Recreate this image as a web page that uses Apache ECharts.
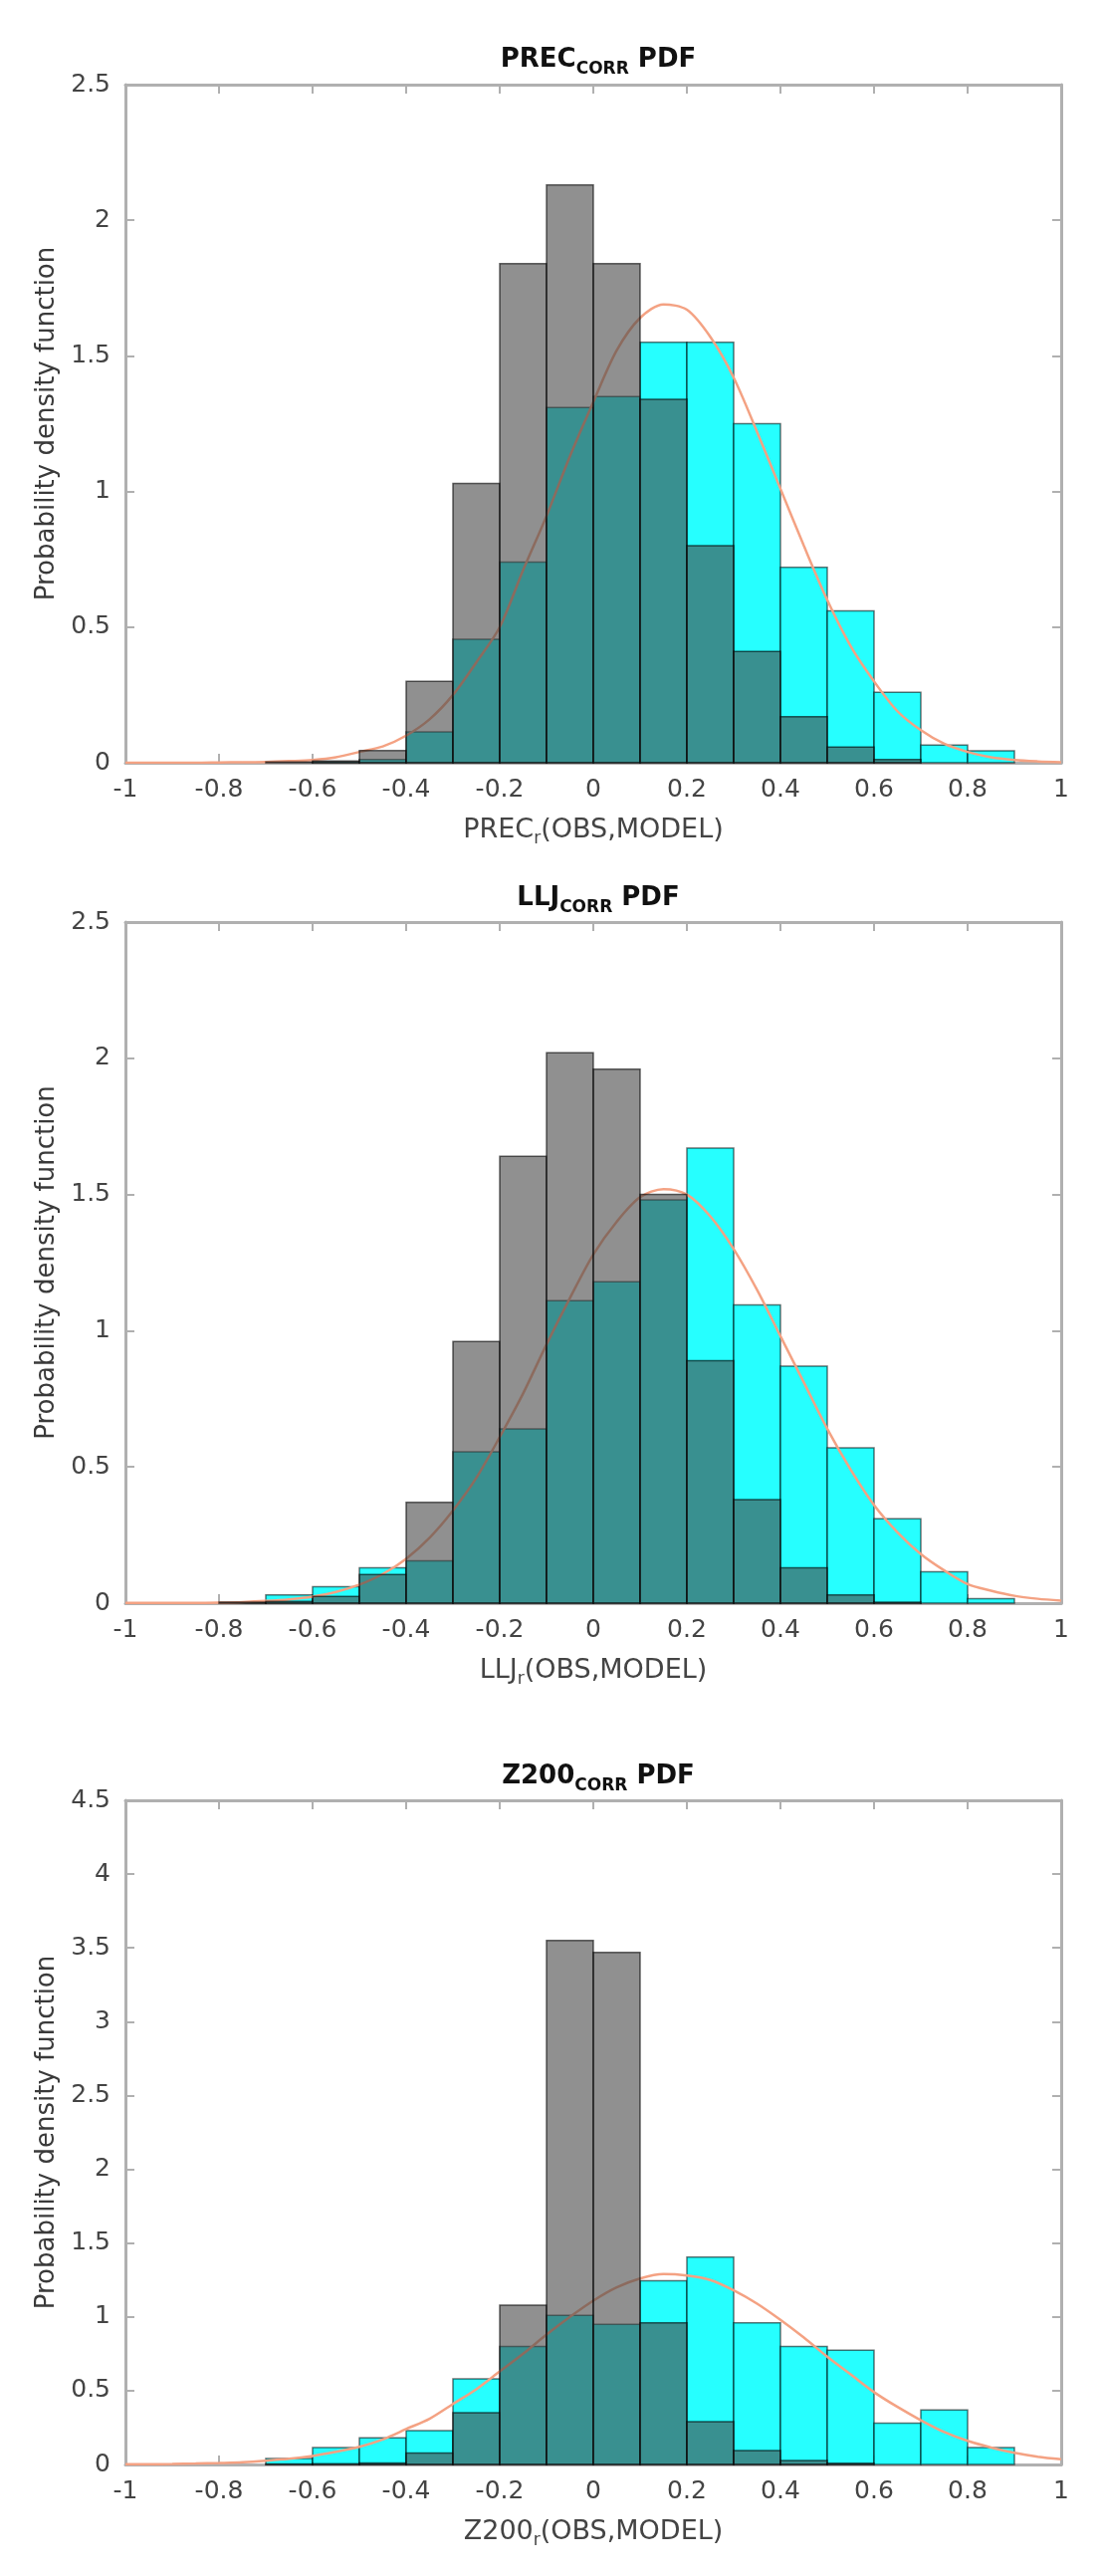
<!DOCTYPE html>
<html>
<head>
<meta charset="utf-8">
<script src="https://cdn.jsdelivr.net/npm/echarts@6/dist/echarts.min.js"></script>
<style>
  html, body { margin: 0; padding: 0; background: #fff; }
  #chart { width: 1107px; height: 2587px; }
</style>
</head>
<body>
<div id="chart"></div>
<script>
// === DATA ===
// histogram bin edges (width 0.1)
const BIN_EDGES = [-1, -0.9, -0.8, -0.7, -0.6, -0.5, -0.4, -0.3, -0.2, -0.1, 0,
                   0.1, 0.2, 0.3, 0.4, 0.5, 0.6, 0.7, 0.8, 0.9, 1];

// x positions where the fitted curve was read
const CURVE_X = [-1, -0.95, -0.9, -0.85, -0.8, -0.75, -0.7, -0.65, -0.6, -0.55, -0.5,
                 -0.45, -0.4, -0.35, -0.3, -0.25, -0.2, -0.15, -0.1, -0.05, 0,
                 0.05, 0.1, 0.15, 0.2, 0.25, 0.3, 0.35, 0.4, 0.45, 0.5,
                 0.55, 0.6, 0.65, 0.7, 0.75, 0.8, 0.85, 0.9, 0.95, 1];

// PREC panel
const precGray  = [0, 0, 0, 0.003, 0.006, 0.045, 0.30, 1.03, 1.84, 2.13,
                   1.84, 1.34, 0.80, 0.41, 0.17, 0.058, 0.012, 0, 0, 0];
const precCyan  = [0, 0, 0, 0, 0.003, 0.012, 0.114, 0.455, 0.74, 1.31,
                   1.35, 1.55, 1.55, 1.25, 0.72, 0.56, 0.26, 0.065, 0.044, 0];
const precFit   = [0, 0, 0, 0, 0.001, 0.002, 0.003, 0.006, 0.01, 0.02, 0.04,
                   0.06, 0.10, 0.16, 0.25, 0.37, 0.50, 0.71, 0.91, 1.13, 1.33,
                   1.52, 1.64, 1.69, 1.67, 1.57, 1.42, 1.22, 1.01, 0.80, 0.60,
                   0.43, 0.30, 0.19, 0.12, 0.07, 0.04, 0.02, 0.01, 0.005, 0.002];

// LLJ panel
const lljGray   = [0, 0, 0.004, 0.006, 0.025, 0.105, 0.37, 0.96, 1.64, 2.02,
                   1.96, 1.50, 0.89, 0.38, 0.13, 0.03, 0.004, 0, 0, 0];
const lljCyan   = [0, 0, 0.002, 0.03, 0.06, 0.13, 0.155, 0.556, 0.64, 1.11,
                   1.18, 1.48, 1.67, 1.095, 0.87, 0.57, 0.31, 0.115, 0.016, 0];
const lljFit    = [0.001, 0.001, 0.001, 0.001, 0.002, 0.004, 0.008, 0.014, 0.024, 0.041, 0.068,
                   0.107, 0.163, 0.24, 0.34, 0.46, 0.61, 0.77, 0.95, 1.12, 1.28,
                   1.40, 1.49, 1.52, 1.50, 1.42, 1.30, 1.15, 0.98, 0.81, 0.64,
                   0.49, 0.36, 0.26, 0.18, 0.12, 0.07, 0.046, 0.027, 0.016, 0.009];

// Z200 panel
const z200Gray  = [0, 0, 0, 0.003, 0.005, 0.01, 0.077, 0.35, 1.08, 3.55,
                   3.47, 0.96, 0.29, 0.095, 0.027, 0.008, 0, 0, 0, 0];
const z200Cyan  = [0, 0, 0, 0.04, 0.115, 0.18, 0.23, 0.58, 0.80, 1.01,
                   0.95, 1.245, 1.405, 0.96, 0.80, 0.775, 0.28, 0.37, 0.115, 0];
const z200Fit   = [0.001, 0.002, 0.003, 0.006, 0.01, 0.015, 0.025, 0.038, 0.058, 0.086, 0.12,
                   0.17, 0.24, 0.31, 0.41, 0.51, 0.63, 0.75, 0.88, 1.00, 1.11,
                   1.20, 1.26, 1.29, 1.28, 1.25, 1.18, 1.09, 0.98, 0.86, 0.73,
                   0.61, 0.49, 0.39, 0.30, 0.22, 0.16, 0.115, 0.079, 0.053, 0.035];

// === LAYOUT ===
const panels = [
    { name: 'PREC', gray: precGray, cyan: precCyan, fit: precFit, yMax: 2.5, top: 85,   height: 681, titleY: 38 },
    { name: 'LLJ',  gray: lljGray,  cyan: lljCyan,  fit: lljFit,  yMax: 2.5, top: 926,  height: 684, titleY: 880 },
    { name: 'Z200', gray: z200Gray, cyan: z200Cyan, fit: z200Fit, yMax: 4.5, top: 1808, height: 667, titleY: 1762 }
];

const FONT = 'DejaVu Sans';
const AXIS_GRAY = '#b0b0b0';
const LABEL_COLOR = '#444';

// === HELPERS ===
function histSeries(idx, values, fill, stroke, z) {
    return {
        type: 'custom',
        xAxisIndex: idx * 2,
        yAxisIndex: idx * 2,
        z: z,
        silent: true,
        encode: { x: [0, 1], y: 2 },
        data: values.map((v, i) => [BIN_EDGES[i], BIN_EDGES[i + 1], v]).filter(d => d[2] > 0),
        renderItem: function (params, api) {
            const p0 = api.coord([api.value(0), api.value(2)]);
            const p1 = api.coord([api.value(1), 0]);
            return {
                type: 'rect',
                shape: { x: p0[0], y: p0[1], width: p1[0] - p0[0], height: p1[1] - p0[1] },
                style: { fill: fill, stroke: stroke, lineWidth: 1.5 }
            };
        }
    };
}

function boxAxis(common, extra) {
    return Object.assign({}, common, extra);
}

// === BUILD OPTION ===
const grid = [], xAxis = [], yAxis = [], series = [], title = [];

panels.forEach((p, i) => {
    grid.push({ left: 126, right: 41, top: p.top, height: p.height });

    const lineStyle = { axisLine: { show: true, onZero: false, lineStyle: { color: AXIS_GRAY, width: 3 } },
                        axisTick: { show: true, inside: true, length: 9, lineStyle: { color: AXIS_GRAY, width: 2 } },
                        splitLine: { show: false } };

    xAxis.push(boxAxis(lineStyle, {
        gridIndex: i, type: 'value', min: -1, max: 1, interval: 0.2, position: 'bottom',
        axisLabel: { margin: 15, fontFamily: FONT, fontSize: 25, color: LABEL_COLOR },
        name: `{m|${p.name}}{s|r}{m|(OBS,MODEL)}`,
        nameLocation: 'middle', nameGap: 50,
        nameTextStyle: {
            rich: {
                m: { fontFamily: FONT, fontSize: 27, color: LABEL_COLOR },
                s: { fontFamily: FONT, fontSize: 17, color: LABEL_COLOR, padding: [18, 0, 0, 0] }
            }
        }
    }));
    xAxis.push(boxAxis(lineStyle, {
        gridIndex: i, type: 'value', min: -1, max: 1, interval: 0.2, position: 'top',
        axisLabel: { show: false }
    }));

    yAxis.push(boxAxis(lineStyle, {
        gridIndex: i, type: 'value', min: 0, max: p.yMax, interval: 0.5, position: 'left',
        axisLabel: { margin: 15, fontFamily: FONT, fontSize: 25, color: LABEL_COLOR },
        name: 'Probability density function',
        nameLocation: 'middle', nameGap: 62, nameRotate: 90,
        nameTextStyle: { fontFamily: FONT, fontSize: 26, color: '#3a3a3a' }
    }));
    yAxis.push(boxAxis(lineStyle, {
        gridIndex: i, type: 'value', min: 0, max: p.yMax, interval: 0.5, position: 'right',
        axisLabel: { show: false }
    }));

    // cyan histogram first, fitted curve, then translucent gray on top
    series.push(histSeries(i, p.cyan, 'rgba(0,255,255,0.85)', 'rgba(0,0,0,0.55)', 1));
    series.push({
        type: 'line',
        xAxisIndex: i * 2,
        yAxisIndex: i * 2,
        z: 2,
        silent: true,
        smooth: 0.3,
        showSymbol: false,
        lineStyle: { color: '#f4a283', width: 2.5 },
        data: CURVE_X.map((x, k) => [x, p.fit[k]])
    });
    series.push(histSeries(i, p.gray, 'rgba(70,70,70,0.6)', 'rgba(0,0,0,0.6)', 3));

    title.push({
        text: `{b|${p.name}}{s|CORR}{b| PDF}`,
        left: 596,
        textAlign: 'center',
        top: p.titleY,
        textStyle: {
            rich: {
                b: { fontFamily: FONT, fontSize: 26, fontWeight: 'bold', color: '#111' },
                s: { fontFamily: FONT, fontSize: 17, fontWeight: 'bold', color: '#111', padding: [18, 0, 0, 0] }
            }
        }
    });
});

const chart = echarts.init(document.getElementById('chart'), null, { renderer: 'canvas' });
chart.setOption({
    backgroundColor: '#fff',
    animation: false,
    title: title,
    grid: grid,
    xAxis: xAxis,
    yAxis: yAxis,
    series: series
});
</script>
</body>
</html>
